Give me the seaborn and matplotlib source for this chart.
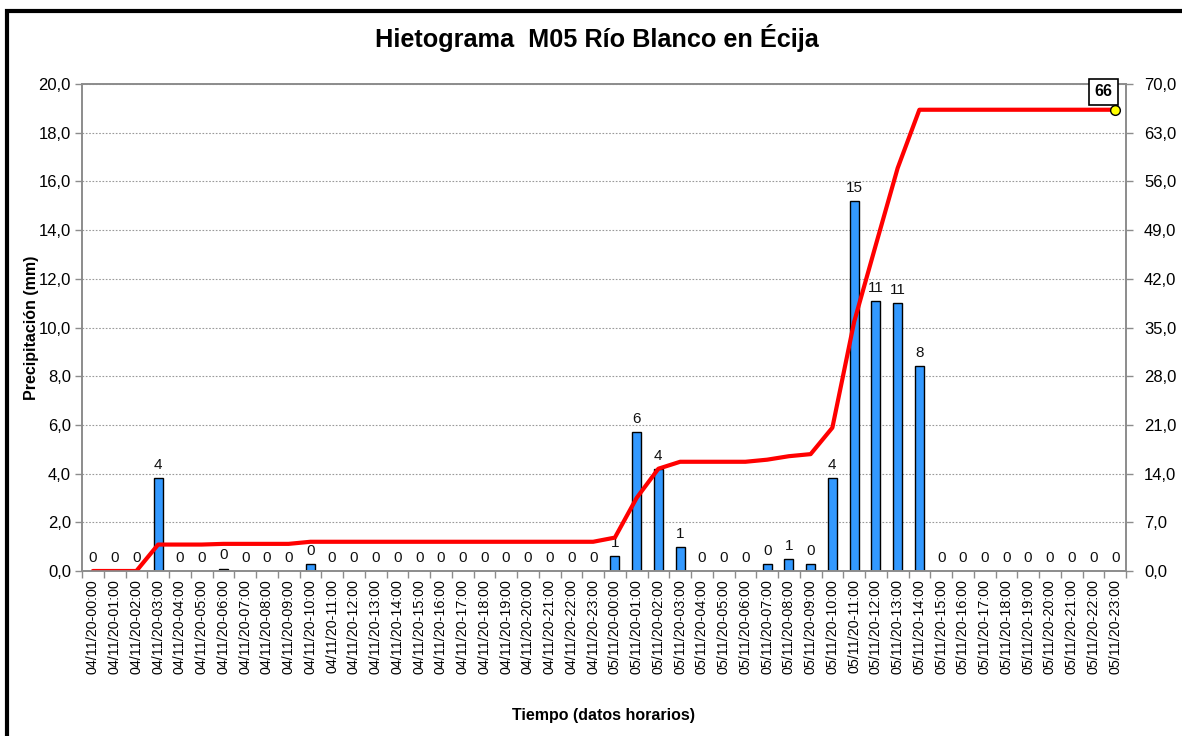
import numpy as np
import pandas as pd
import matplotlib
matplotlib.use("Agg")
import matplotlib.pyplot as plt
from matplotlib.patches import Rectangle
from matplotlib.ticker import FixedLocator, FuncFormatter
import seaborn as sns

# Hourly rainfall at station M05 (mm)
dias = ["04/11/20"] * 24 + ["05/11/20"] * 24
horas = [f"{h:02d}:00" for h in range(24)] * 2
etiquetas = [f"{d}-{h}" for d, h in zip(dias, horas)]

precipitacion = [
    0.0, 0.0, 0.0, 3.8, 0.0, 0.0, 0.1, 0.0, 0.0, 0.0, 0.3, 0.0,
    0.0, 0.0, 0.0, 0.0, 0.0, 0.0, 0.0, 0.0, 0.0, 0.0, 0.0, 0.0,
    0.6, 5.7, 4.2, 1.0, 0.0, 0.0, 0.0, 0.3, 0.5, 0.3, 3.8, 15.2,
    11.1, 11.0, 8.4, 0.0, 0.0, 0.0, 0.0, 0.0, 0.0, 0.0, 0.0, 0.0,
]
acumulada = np.cumsum(precipitacion)

df = pd.DataFrame({"hora": etiquetas, "mm": precipitacion, "acum": acumulada})

sns.set_style("white")
plt.rcParams["font.family"] = ["Liberation Sans", "DejaVu Sans"]
for k in ("text.color", "axes.labelcolor", "xtick.color", "ytick.color"):
    plt.rcParams[k] = "black"

fig = plt.figure(figsize=(11.82, 7.36), dpi=100)
W, H = 1182, 736
ax = fig.add_axes([82 / W, 1 - 571 / H, (1126 - 82) / W, (571 - 84) / H])

gris = "#8c8c8c"

sns.barplot(data=df, x="hora", y="mm", ax=ax, color="#3399FF",
            edgecolor="black", linewidth=1.0, width=0.42, saturation=1)
# empty hours get no outline
for p, v in zip(ax.patches, precipitacion):
    if v == 0:
        p.set_linewidth(0)

ax.set_xlim(-0.5, len(etiquetas) - 0.5)
ax.set_ylim(0, 20)
ax.set_yticks(np.arange(0, 20.1, 2))
ax.yaxis.set_major_formatter(FuncFormatter(lambda v, p: f"{v:.1f}".replace(".", ",")))
ax.yaxis.grid(True, linestyle=(0, (1.5, 1.5)), color="#9a9a9a", linewidth=0.8)
ax.set_axisbelow(True)

# labels at the category centres, tick marks at the boundaries
ax.set_xticks(range(len(etiquetas)))
ax.set_xticklabels(etiquetas, rotation=90, fontsize=10.3)
ax.tick_params(axis="x", which="major", length=0, pad=6)
ax.xaxis.set_minor_locator(FixedLocator(np.arange(-0.5, len(etiquetas), 1)))
ax.tick_params(axis="x", which="minor", length=5, color=gris, width=1, bottom=True)
ax.tick_params(axis="y", length=5, color=gris, width=1, labelsize=12, left=True, pad=3)

for s in ax.spines.values():
    s.set_color(gris)
    s.set_linewidth(1.2)

# value labels over each bar
for i, v in enumerate(precipitacion):
    ax.text(i, v + 0.25, f"{v:.0f}" if v != 0.5 else "1", ha="center", va="bottom",
            fontsize=11, color="#111111")

ax.set_xlabel("Tiempo (datos horarios)", fontsize=11.5, fontweight="bold", labelpad=24)
ax.set_ylabel("Precipitación (mm)", fontsize=11.5, fontweight="bold", labelpad=0)

# cumulative rainfall on the secondary axis
ax2 = ax.twinx()
x_idx = np.arange(len(etiquetas))
sns.lineplot(x=x_idx, y=acumulada, ax=ax2, color="#ff0000", linewidth=3.0)
ax2.set_ylim(0, 70)
ax2.set_yticks(np.arange(0, 70.1, 7))
ax2.yaxis.set_major_formatter(FuncFormatter(lambda v, p: f"{v:.1f}".replace(".", ",")))
ax2.tick_params(axis="y", length=5, color=gris, width=1, labelsize=12, right=True, pad=8)
ax2.set_ylabel("")
for s in ax2.spines.values():
    s.set_color(gris)
    s.set_linewidth(1.2)

ax2.plot(x_idx[-1], acumulada[-1], marker="o", markersize=7, markerfacecolor="#ffff00",
         markeredgecolor="black", markeredgewidth=1.0, zorder=5)
ax2.annotate(f"{acumulada[-1]:.0f}", xy=(x_idx[-1], acumulada[-1]), xytext=(-8.5, 13),
             textcoords="offset points", ha="center", va="center", fontsize=11.5,
             fontweight="bold",
             bbox=dict(boxstyle="square,pad=0.35", facecolor="white", edgecolor="black",
                       linewidth=1.2))

fig.text(597 / W, 1 - 38 / H, "Hietograma  M05 Río Blanco en Écija", ha="center",
         va="center", fontsize=18.2, fontweight="bold")

# outer chart frame
fig.patches.append(Rectangle((7 / W, -0.05), 1.1, 1 - 11 / H + 0.05, transform=fig.transFigure,
                             fill=False, edgecolor="black", linewidth=3.0))

fig.savefig("out.png", dpi=100)
